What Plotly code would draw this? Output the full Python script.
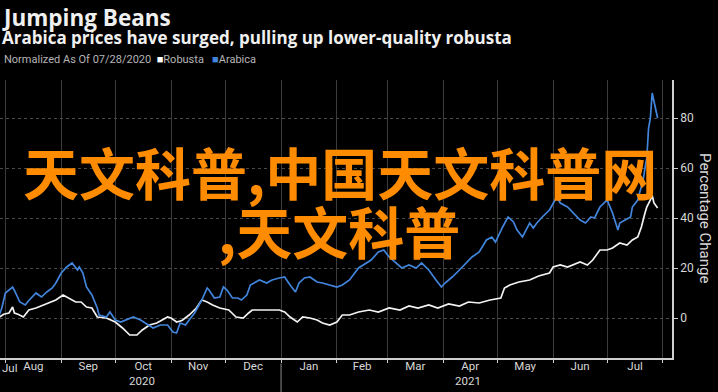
import plotly.graph_objects as go

# ---------------- data (percentage change, normalized as of 07/28/2020) ----------------
arabica_dates = [
    "2020-07-28", "2020-07-30", "2020-08-01", "2020-08-05", "2020-08-06", "2020-08-09", "2020-08-12",
    "2020-08-14", "2020-08-18", "2020-08-21", "2020-08-24", "2020-08-27", "2020-08-29", "2020-09-01",
    "2020-09-04", "2020-09-07", "2020-09-10", "2020-09-11", "2020-09-13", "2020-09-15", "2020-09-18",
    "2020-09-21", "2020-09-22", "2020-09-26", "2020-09-28", "2020-10-01", "2020-10-04", "2020-10-07",
    "2020-10-11", "2020-10-15", "2020-10-19", "2020-10-22", "2020-10-26", "2020-10-30", "2020-11-02",
    "2020-11-04", "2020-11-06", "2020-11-09", "2020-11-11", "2020-11-14", "2020-11-18", "2020-11-21",
    "2020-11-22", "2020-11-25", "2020-11-28", "2020-11-30", "2020-12-02", "2020-12-05", "2020-12-08",
    "2020-12-10", "2020-12-13", "2020-12-15", "2020-12-17", "2020-12-20", "2020-12-24", "2020-12-27",
    "2020-12-31", "2021-01-03", "2021-01-06", "2021-01-09", "2021-01-11", "2021-01-14", "2021-01-17",
    "2021-01-21", "2021-01-24", "2021-01-28", "2021-02-01", "2021-02-04", "2021-02-08", "2021-02-13",
    "2021-02-17", "2021-02-20", "2021-02-24", "2021-02-27", "2021-03-02", "2021-03-06", "2021-03-09",
    "2021-03-13", "2021-03-17", "2021-03-20", "2021-03-24", "2021-03-28", "2021-03-31", "2021-04-02",
    "2021-04-06", "2021-04-10", "2021-04-14", "2021-04-17", "2021-04-21", "2021-04-25", "2021-04-28",
    "2021-04-30", "2021-05-04", "2021-05-07", "2021-05-10", "2021-05-12", "2021-05-15", "2021-05-19",
    "2021-05-21", "2021-05-23", "2021-05-26", "2021-05-30", "2021-06-03", "2021-06-05", "2021-06-09",
    "2021-06-12", "2021-06-16", "2021-06-19", "2021-06-22", "2021-06-24", "2021-06-27", "2021-07-01",
    "2021-07-04", "2021-07-07", "2021-07-08", "2021-07-11", "2021-07-14", "2021-07-15", "2021-07-18",
    "2021-07-19", "2021-07-21", "2021-07-22", "2021-07-23", "2021-07-24", "2021-07-25", "2021-07-26",
    "2021-07-27", "2021-07-28", "2021-07-29",
]
arabica_values = [
    0, 4, 10, 12.4, 11, 6.4, 5.2,
    7, 10, 8.4, 10.4, 12, 14, 18,
    20.4, 22, 19.2, 20.4, 18, 12.4, 9.2,
    4, 1.2, 0.4, 2.4, -0.8, -1.6, -0.8,
    0.4, -0.8, -2.8, -4, -2.8, -2.8, -5.6,
    -6, -2, -2.8, -0.8, 2, 7.2, 12,
    11.2, 8, 8.4, 12.4, 11.2, 8, 8,
    7.2, 9.2, 13.2, 14, 15.2, 14, 15.2,
    16, 16.4, 13.2, 10.4, 14, 16, 16.4,
    14.4, 14, 13.2, 12.4, 13.2, 15.2, 20,
    22, 23.2, 26.4, 27.2, 24.4, 22, 20,
    21.2, 20, 22, 19.2, 15.2, 12.4, 14,
    16.4, 19.2, 22.4, 24.4, 26.4, 31.2, 32.4,
    30.4, 36.4, 40.4, 38.4, 35.2, 32.4, 38,
    36, 38, 40.4, 43.2, 48.4, 46, 44.4,
    42, 39.2, 38, 40.4, 40, 44.4, 47.2,
    42, 35.2, 38, 39.2, 40.4, 44.4, 47.2,
    50, 55.2, 60, 64, 76, 80, 90,
    87, 84, 80,
]

robusta_dates = [
    "2020-07-28", "2020-07-31", "2020-08-03", "2020-08-05", "2020-08-06", "2020-08-08", "2020-08-11",
    "2020-08-14", "2020-08-18", "2020-08-22", "2020-08-26", "2020-08-29", "2020-09-02", "2020-09-05",
    "2020-09-09", "2020-09-12", "2020-09-15", "2020-09-18", "2020-09-21", "2020-09-26", "2020-10-01",
    "2020-10-05", "2020-10-09", "2020-10-13", "2020-10-16", "2020-10-20", "2020-10-24", "2020-10-27",
    "2020-10-30", "2020-11-01", "2020-11-04", "2020-11-07", "2020-11-11", "2020-11-15", "2020-11-18",
    "2020-11-21", "2020-11-24", "2020-11-28", "2020-12-03", "2020-12-07", "2020-12-11", "2020-12-14",
    "2020-12-16", "2020-12-20", "2020-12-26", "2020-12-31", "2021-01-03", "2021-01-06", "2021-01-10",
    "2021-01-13", "2021-01-17", "2021-01-21", "2021-01-24", "2021-01-28", "2021-02-01", "2021-02-04",
    "2021-02-08", "2021-02-13", "2021-02-19", "2021-02-24", "2021-03-02", "2021-03-08", "2021-03-13",
    "2021-03-18", "2021-03-24", "2021-03-29", "2021-04-04", "2021-04-10", "2021-04-15", "2021-04-21",
    "2021-04-27", "2021-05-03", "2021-05-05", "2021-05-08", "2021-05-13", "2021-05-19", "2021-05-24",
    "2021-05-30", "2021-06-01", "2021-06-05", "2021-06-09", "2021-06-12", "2021-06-16", "2021-06-20",
    "2021-06-23", "2021-06-27", "2021-07-01", "2021-07-04", "2021-07-08", "2021-07-12", "2021-07-15",
    "2021-07-18", "2021-07-20", "2021-07-22", "2021-07-23", "2021-07-25", "2021-07-26", "2021-07-27",
    "2021-07-28", "2021-07-29",
]
robusta_values = [
    0, 1.5, 2, 4.4, 2, 1.5, 0.4,
    3.2, 4, 5.2, 6.4, 7.2, 9.2, 8,
    6.4, 6.4, 4.4, 4, 0.4, 0, -1.6,
    -4, -6.8, -6.8, -4.8, -2.8, -2, -0.8,
    0.4, 0, -1.6, -1, 1.2, 4, 7.2,
    6.4, 5.2, 4, 3.2, 0.4, 0, 2,
    3.2, 3.2, 3.2, 3.2, 2.4, 0.4, -1.6,
    0.4, 0, -0.8, -2, -2.8, -1.6, 1.2,
    1.2, 2.4, 3.2, 2.4, 4, 3.2, 4.8,
    4, 5.2, 4, 5.6, 4.8, 6.4, 6,
    7.2, 8, 12, 13.2, 14.4, 15.2, 16.8,
    18, 20.4, 21.2, 20.4, 21.2, 22.4, 21.2,
    23.2, 27.2, 27.2, 28, 30, 29.2, 31.2,
    32.4, 36.4, 42, 44.4, 47.2, 49, 46,
    45, 44,
]

y_ticks = [0, 20, 40, 60, 80]
title_text = "Jumping Beans"
subtitle_text = "Arabica prices have surged, pulling up lower-quality robusta"
watermark_line1 = "天文科普,中国天文科普网"
watermark_line2 = ",天文科普"

ROBUSTA_COLOR = "#f2f2f2"
ARABICA_COLOR = "#4285dc"
GRID = "#3c3c3c"
AXIS = "#cfcfcf"
FONT = "Roboto"

fig = go.Figure()
fig.add_trace(go.Scatter(x=robusta_dates, y=robusta_values, mode="lines", name="Robusta",
                         line=dict(color=ROBUSTA_COLOR, width=1.7), showlegend=False))
fig.add_trace(go.Scatter(x=arabica_dates, y=arabica_values, mode="lines", name="Arabica",
                         line=dict(color=ARABICA_COLOR, width=1.7), showlegend=False))

fig.update_layout(
    width=718, height=392,
    margin=dict(l=0, r=46, t=80, b=34),
    paper_bgcolor="black", plot_bgcolor="black",
    font=dict(family=FONT, color=AXIS),
    xaxis=dict(
        range=["2020-07-29", "2021-08-06"],
        dtick="M1", tick0="2020-08-01", tickformat="%b", ticklabelmode="period",
        showgrid=True, gridcolor=GRID, gridwidth=1,
        showline=True, linecolor=AXIS, linewidth=1.5,
        ticks="outside", ticklen=3, tickcolor=AXIS,
        ticklabelstandoff=-7,
        tickfont=dict(size=11.5, color="#d8d8d8", family=FONT),
        zeroline=False,
    ),
    yaxis=dict(
        side="right", range=[-16, 95.2],
        tickvals=y_ticks,
        showgrid=True, gridcolor="#4a4a4a", griddash="dot", gridwidth=1,
        showline=True, linecolor=AXIS, linewidth=1.5,
        ticks="outside", ticklen=4, tickcolor=AXIS,
        tickfont=dict(size=12, color="#d8d8d8", family=FONT),
        zeroline=False,
    ),
)

ann = []
ann.append(dict(text="<b>" + title_text + "</b>", xref="paper", yref="paper", x=0.0, y=1.286,
                xanchor="left", yanchor="top", showarrow=False,
                font=dict(size=22.5, color="#f0f0f0", family="Open Sans")))
ann.append(dict(text="<b>" + subtitle_text + "</b>", xref="paper", yref="paper", x=0.0, y=1.2,
                xanchor="left", yanchor="top", showarrow=False,
                font=dict(size=17, color="#f0f0f0", family="Open Sans")))
ann.append(dict(text="Normalized As Of 07/28/2020  <span style='color:#ffffff'>■</span>Robusta   "
                     "<span style='color:" + ARABICA_COLOR + "'>■</span>Arabica",
                xref="paper", yref="paper", x=0.003, y=1.075, xanchor="left", yanchor="middle",
                showarrow=False, font=dict(size=11, color="#b5b5b5", family=FONT)))
ann.append(dict(text="Percentage Change", xref="paper", yref="paper", x=1.05, y=0.505,
                xanchor="center", yanchor="middle", textangle=90, showarrow=False,
                font=dict(size=15, color="#d8d8d8", family=FONT)))
ann.append(dict(text="Jul", xref="paper", yref="paper", x=0.0, y=-0.005, xanchor="left",
                yanchor="top", showarrow=False, font=dict(size=11.5, color="#d8d8d8", family=FONT)))
ann.append(dict(text="2020", xref="x", yref="paper", x="2020-10-16", y=-0.083, xanchor="center",
                yanchor="middle", showarrow=False, font=dict(size=11.5, color="#d8d8d8", family=FONT)))
ann.append(dict(text="2021", xref="x", yref="paper", x="2021-04-15", y=-0.083, xanchor="center",
                yanchor="middle", showarrow=False, font=dict(size=11.5, color="#d8d8d8", family=FONT)))
ann.append(dict(text=watermark_line1, xref="paper", yref="paper", x=0.506, y=0.676,
                xanchor="center", yanchor="middle", showarrow=False,
                font=dict(size=56, color="#ff8c00", family="Noto Sans CJK SC", weight="bold")))
ann.append(dict(text=watermark_line2, xref="paper", yref="paper", x=0.505, y=0.463,
                xanchor="center", yanchor="middle", showarrow=False,
                font=dict(size=56, color="#ff8c00", family="Noto Sans CJK SC", weight="bold")))
fig.update_layout(annotations=ann)

fig.add_shape(type="line", xref="x", yref="paper", x0="2021-01-01", x1="2021-01-01",
              y0=-0.02, y1=-0.13, line=dict(color="#8a8a8a", width=1))

fig.write_html("out.html")
